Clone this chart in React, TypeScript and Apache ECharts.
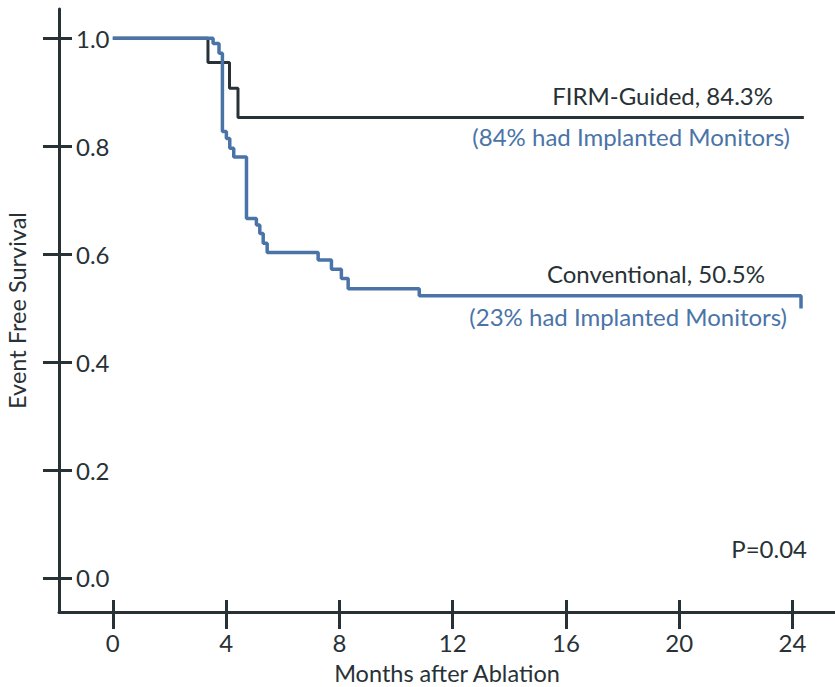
import React, { useEffect, useRef } from "react";
import * as echarts from "echarts";

const xTicks = [0, 4, 8, 12, 16, 20, 24];
const yTicks = [0, 0.2, 0.4, 0.6, 0.8, 1.0];

// FIRM-Guided: times of each step and survival after it
const firmMonths = [0, 3.36, 4.12, 4.42, 24.4];
const firmSurvival = [1.0, 0.955, 0.907, 0.853, 0.853];

// Conventional
const convMonths = [0, 3.54, 3.75, 3.87, 4.01, 4.13, 4.27, 4.72, 5.07, 5.19, 5.31, 5.45, 7.25, 7.72, 8.07, 8.31, 10.82, 24.3];
const convSurvival = [1.0, 0.99, 0.972, 0.827, 0.814, 0.796, 0.78, 0.666, 0.654, 0.638, 0.62, 0.603, 0.589, 0.572, 0.555, 0.536, 0.523, 0.499];

const DARK = "#283236";
const BLUE = "#4a74a8";
const FONT = "Lato";
const FS = 24;

export default function App() {
  const ref = useRef<HTMLDivElement>(null);
  useEffect(() => {
    if (!ref.current) return;
    const chart = echarts.init(ref.current, null, { renderer: "svg" });
    const firm = firmMonths.map((m, i) => [m, firmSurvival[i]]);
    const conv = convMonths.map((m, i) => [m, convSurvival[i]]);
    const common = { type: "value" as const, splitLine: { show: false } };
    chart.setOption({
      animation: false,
      backgroundColor: "#ffffff",
      grid: { left: 59, right: 0, top: 9, bottom: 75, containLabel: false, outerBoundsMode: "none" },
      xAxis: [
        {
          ...common,
          min: -1.9,
          max: 25.5,
          position: "bottom",
          axisLine: { show: true, onZero: false, lineStyle: { color: DARK, width: 3 } },
          axisTick: { show: true, inside: false, length: 17, customValues: xTicks, lineStyle: { color: DARK, width: 3 } },
          axisLabel: { customValues: xTicks, margin: 18, fontSize: FS, color: DARK, fontFamily: FONT },
          name: "Months after Ablation",
          nameLocation: "middle",
          nameGap: 49,
          nameTextStyle: { fontSize: 23.5, color: DARK, fontFamily: FONT },
        },
        {
          ...common,
          min: -1.9,
          max: 25.5,
          position: "bottom",
          axisLine: { show: false, onZero: false },
          axisTick: { show: true, inside: true, length: 12, customValues: xTicks, lineStyle: { color: DARK, width: 3 } },
          axisLabel: { show: false },
        },
      ],
      yAxis: [
        {
          ...common,
          min: -0.063,
          max: 1.054,
          position: "left",
          axisLine: { show: true, onZero: false, lineStyle: { color: DARK, width: 3 } },
          axisTick: { show: true, inside: true, length: 13, customValues: yTicks, lineStyle: { color: DARK, width: 3 } },
          axisLabel: {
            inside: true,
            customValues: yTicks,
            margin: 17,
            fontSize: FS,
            color: DARK,
            fontFamily: FONT,
            formatter: (v: number) => v.toFixed(1),
          },
          name: "Event Free Survival",
          nameLocation: "middle",
          nameGap: 30,
          nameTextStyle: { fontSize: 23.5, color: DARK, fontFamily: FONT },
        },
        {
          ...common,
          min: -0.063,
          max: 1.054,
          position: "left",
          axisLine: { show: false, onZero: false },
          axisTick: { show: true, inside: false, length: 16, customValues: yTicks, lineStyle: { color: DARK, width: 3 } },
          axisLabel: { show: false },
        },
      ],
      series: [
        {
          name: "FIRM-Guided",
          type: "line",
          step: "end",
          xAxisIndex: 0,
          yAxisIndex: 0,
          data: firm,
          showSymbol: false,
          symbol: "none",
          lineStyle: { color: DARK, width: 3 },
          z: 2,
        },
        {
          name: "Conventional",
          type: "line",
          step: "end",
          xAxisIndex: 0,
          yAxisIndex: 0,
          data: conv,
          showSymbol: false,
          symbol: "none",
          lineStyle: { color: BLUE, width: 3.5 },
          z: 3,
        },
      ],
      graphic: [
        { type: "text", right: 835 - 773, top: 97 - 14, style: { text: "FIRM-Guided, 84.3%", fill: DARK, fontSize: FS, fontFamily: FONT } },
        { type: "text", right: 835 - 790, top: 138 - 14, style: { text: "(84% had Implanted Monitors)", fill: BLUE, fontSize: FS, fontFamily: FONT } },
        { type: "text", right: 835 - 765, top: 275 - 14, style: { text: "Conventional, 50.5%", fill: DARK, fontSize: FS, fontFamily: FONT } },
        { type: "text", right: 835 - 787, top: 318 - 14, style: { text: "(23% had Implanted Monitors)", fill: BLUE, fontSize: FS, fontFamily: FONT } },
        { type: "text", right: 835 - 807, top: 550 - 14, style: { text: "P=0.04", fill: DARK, fontSize: FS, fontFamily: FONT } },
      ],
    });
    return () => chart.dispose();
  }, []);
  return <div ref={ref} style={{ position: "fixed", left: 0, top: 0, width: 835, height: 687 }} />;
}
